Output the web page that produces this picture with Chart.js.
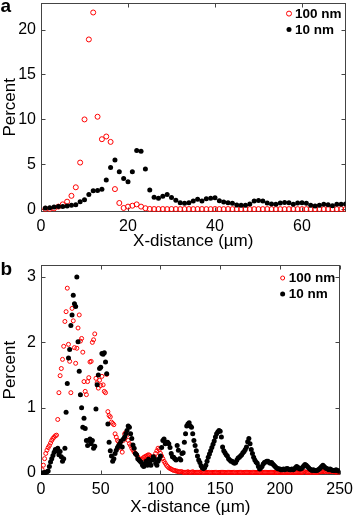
<!DOCTYPE html>
<html>
<head>
<meta charset="utf-8">
<script src="https://cdn.jsdelivr.net/npm/chart.js@4/dist/chart.umd.min.js"></script>
<style>
  html, body { margin: 0; padding: 0; background: #fff; }
  body { width: 358px; height: 516px; position: relative; overflow: hidden; }
  #wrapA { position: absolute; left: 0; top: -12px; width: 358px; height: 263px; }
  #wrapB { position: absolute; left: 0; top: 250px; width: 358px; height: 266px; }
</style>
</head>
<body>
<div id="wrapA"><canvas id="chartA" width="358" height="263"></canvas></div>
<div id="wrapB"><canvas id="chartB" width="358" height="266"></canvas></div>
<script>
// panel a: percent per 1 um bin, x = 1..70 um
const redA = [
  0.05, 0.05, 0.10, 0.30, 0.55, 0.85, 1.50, 2.45, 5.20, 10.0,
  18.9, 21.9, 10.3, 7.80, 8.10, 7.50, 2.25, 0.70, 0.15, 0.30,
  0.40, 0.55, 0.30, 0.12, 0.04, 0.03, 0.03, 0.03, 0.02, 0.03,
  0.03, 0.02, 0.03, 0.03, 0.02, 0.03, 0.03, 0.02, 0.02, 0.03,
  0.02, 0.02, 0.03, 0.02, 0.02, 0.02, 0.03, 0.02, 0.02, 0.02,
  0.02, 0.03, 0.02, 0.02, 0.02, 0.02, 0.02, 0.03, 0.02, 0.02,
  0.02, 0.02, 0.02, 0.03, 0.02, 0.02, 0.02, 0.02, 0.03, 0.02
];
const blackA = [
  0.15, 0.18, 0.25, 0.30, 0.32, 0.37, 0.45, 0.50, 0.85, 1.07,
  1.66, 2.07, 2.10, 2.22, 3.26, 4.66, 5.48, 4.18, 3.44, 3.07,
  4.18, 6.55, 6.45, 4.48, 2.14, 1.33, 1.22, 1.44, 1.65, 1.30,
  1.00, 0.72, 0.66, 0.74, 0.92, 1.11, 0.92, 1.18, 1.22, 1.29,
  0.96, 0.81, 0.74, 0.66, 0.48, 0.44, 0.44, 0.59, 0.92, 0.99,
  0.92, 0.70, 0.59, 0.55, 0.70, 0.77, 0.74, 0.55, 0.70, 0.74,
  0.66, 0.44, 0.37, 0.44, 0.55, 0.51, 0.40, 0.55, 0.55, 0.59
];

// panel b: percent per 1 um bin, x = 1..250 um
const redB = [
  0.05, 0.12, 0.22, 0.30, 0.35, 0.39, 0.42, 0.46, 0.50, 0.53,
  0.55, 0.57, 0.58, 0.82, 1.23, 1.49, 1.60, 1.74, 1.94, 2.32,
  2.47, 2.83, 1.97, 1.71, 1.23, 2.52, 2.33, 1.92, 1.68, 1.91,
  2.22, 2.42, 2.02, 2.06, 1.85, 1.40, 1.25, 1.20, 1.40, 1.46,
  1.70, 1.71, 2.00, 2.04, 2.13, 1.45, 1.38, 1.30, 1.42, 1.34,
  1.48, 1.35, 1.25, 1.23, 1.51, 0.94, 0.88, 0.86, 0.78, 0.76,
  0.74, 0.60, 0.55, 0.50, 0.48, 0.45, 0.38, 0.32, 0.50, 0.60,
  0.62, 0.58, 0.50, 0.45, 0.42, 0.38, 0.35, 0.32, 0.30, 0.28,
  0.25, 0.22, 0.20, 0.21, 0.22, 0.24, 0.25, 0.26, 0.27, 0.28,
  0.27, 0.25, 0.24, 0.24, 0.25, 0.30, 0.34, 0.38, 0.36, 0.30,
  0.26, 0.22, 0.18, 0.15, 0.12, 0.10, 0.08, 0.07, 0.06, 0.05,
  0.04, 0.04, 0.03, 0.03, 0.02, 0.02, 0.02, 0.02, 0.01, 0.01,
  0.01, 0.01, 0.02, 0.01, 0.01, 0.01, 0.02, 0.01, 0.01, 0.01,
  0.01, 0.01, 0.01, 0.02, 0.01, 0.01, 0.01, 0.01, 0.01, 0.01,
  0.01, 0.00, 0.01, 0.01, 0.01, 0.01, 0.01, 0.00, 0.01, 0.01,
  0.01, 0.01, 0.01, 0.01, 0.00, 0.01, 0.01, 0.01, 0.01, 0.01,
  0.01, 0.01, 0.00, 0.01, 0.01, 0.01, 0.01, 0.01, 0.00, 0.01,
  0.01, 0.01, 0.01, 0.01, 0.01, 0.00, 0.01, 0.01, 0.01, 0.01,
  0.01, 0.01, 0.01, 0.00, 0.01, 0.01, 0.01, 0.01, 0.01, 0.01,
  0.01, 0.01, 0.01, 0.01, 0.01, 0.01, 0.00, 0.01, 0.01, 0.01,
  0.01, 0.01, 0.01, 0.01, 0.01, 0.01, 0.01, 0.01, 0.01, 0.00,
  0.01, 0.01, 0.01, 0.01, 0.01, 0.01, 0.01, 0.01, 0.01, 0.02,
  0.02, 0.01, 0.01, 0.01, 0.01, 0.01, 0.02, 0.01, 0.01, 0.01,
  0.01, 0.01, 0.02, 0.02, 0.02, 0.03, 0.02, 0.02, 0.03, 0.02,
  0.02, 0.02, 0.03, 0.02, 0.02, 0.02, 0.01, 0.02, 0.02, 0.01
];
const blackB = [
  0.00, 0.00, 0.01, 0.01, 0.02, 0.03, 0.10, 0.17, 0.22, 0.27,
  0.32, 0.36, 0.34, 0.38, 0.28, 0.33, 0.25, 0.18, 0.22, 0.38,
  0.93, 1.37, 1.76, 1.89, 2.26, 2.42, 2.72, 2.59, 2.55, 3.00,
  2.01, 1.56, 1.20, 1.00, 0.70, 0.84, 0.68, 0.50, 0.42, 0.50,
  0.52, 0.45, 0.50, 0.38, 0.41, 0.98, 1.35, 1.50, 1.60, 1.62,
  1.83, 1.82, 1.84, 1.70, 1.52, 0.75, 0.47, 0.34, 0.26, 0.18,
  0.22, 0.30, 0.35, 0.39, 0.42, 0.45, 0.49, 0.40, 0.52, 0.55,
  0.60, 0.65, 0.72, 0.70, 0.60, 0.53, 0.43, 0.38, 0.30, 0.28,
  0.22, 0.20, 0.18, 0.16, 0.12, 0.10, 0.14, 0.18, 0.12, 0.21,
  0.15, 0.12, 0.20, 0.25, 0.22, 0.15, 0.12, 0.18, 0.22, 0.26,
  0.39, 0.50, 0.52, 0.45, 0.47, 0.47, 0.45, 0.39, 0.30, 0.25,
  0.24, 0.22, 0.20, 0.42, 0.35, 0.22, 0.20, 0.30, 0.31, 0.47,
  0.60, 0.72, 0.75, 0.77, 0.72, 0.70, 0.60, 0.50, 0.42, 0.34,
  0.26, 0.20, 0.16, 0.11, 0.08, 0.07, 0.08, 0.12, 0.18, 0.24,
  0.29, 0.34, 0.39, 0.44, 0.49, 0.55, 0.60, 0.63, 0.65, 0.64,
  0.55, 0.40, 0.34, 0.31, 0.28, 0.26, 0.22, 0.20, 0.18, 0.18,
  0.16, 0.15, 0.16, 0.20, 0.23, 0.24, 0.26, 0.28, 0.31, 0.33,
  0.36, 0.40, 0.48, 0.53, 0.45, 0.36, 0.30, 0.24, 0.20, 0.17,
  0.15, 0.10, 0.06, 0.08, 0.10, 0.14, 0.16, 0.17, 0.18, 0.18,
  0.16, 0.15, 0.16, 0.14, 0.12, 0.10, 0.08, 0.07, 0.06, 0.06,
  0.05, 0.05, 0.06, 0.05, 0.06, 0.07, 0.06, 0.05, 0.05, 0.06,
  0.05, 0.06, 0.08, 0.10, 0.09, 0.07, 0.06, 0.07, 0.09, 0.11,
  0.13, 0.12, 0.10, 0.08, 0.06, 0.05, 0.04, 0.05, 0.04, 0.04,
  0.04, 0.05, 0.06, 0.08, 0.10, 0.12, 0.10, 0.08, 0.07, 0.06,
  0.05, 0.06, 0.05, 0.04, 0.04, 0.04, 0.05, 0.04, 0.03, 0.03
];

const seriesNames = ['100 nm', '10 nm'];
const xTitle = 'X-distance (µm)';
const yTitle = 'Percent';

const FONT = '"Liberation Sans", Arial, sans-serif';
Chart.defaults.font.family = FONT;
Chart.defaults.color = '#000';

// bins are 1 um wide, first bin at 1 um
const toPoints = vals => vals.map((v, i) => ({ x: i + 1, y: v }));

// box, inward ticks on all four sides (matlab style), titles, legend
const frame = {
  id: 'frame',
  beforeDatasetsDraw(chart) {
    const { ctx, chartArea: a, scales: { x, y } } = chart;
    const L = Math.round(a.left) + 0.5, R = Math.round(a.right) - 0.5;
    const T = Math.round(a.top) + 0.5, B = Math.round(a.bottom) - 0.5;
    ctx.save();
    ctx.strokeStyle = '#444';
    ctx.lineWidth = 1;
    ctx.strokeRect(L, T, R - L, B - T);
    ctx.beginPath();
    x.ticks.forEach(t => {
      const px = Math.round(x.getPixelForValue(t.value)) + 0.5;
      ctx.moveTo(px, B); ctx.lineTo(px, B - 4);
      ctx.moveTo(px, T); ctx.lineTo(px, T + 4);
    });
    y.ticks.forEach(t => {
      const py = Math.round(y.getPixelForValue(t.value)) + 0.5;
      ctx.moveTo(L, py); ctx.lineTo(L + 4, py);
      ctx.moveTo(R, py); ctx.lineTo(R - 4, py);
    });
    ctx.stroke();
    ctx.restore();
  },
  afterDraw(chart, args, opts) {
    const { ctx, chartArea: a } = chart;
    ctx.save();
    ctx.fillStyle = '#000';
    // axis titles
    ctx.font = '17px ' + FONT;
    ctx.textAlign = 'center';
    ctx.textBaseline = 'middle';
    ctx.fillText(xTitle, (a.left + a.right) / 2, opts.xTitleY);
    ctx.save();
    ctx.translate(10, (a.top + a.bottom) / 2);
    ctx.rotate(-Math.PI / 2);
    ctx.fillText(yTitle, 0, 0);
    ctx.restore();
    // legend inside the axes, top right
    ctx.font = 'bold 13.5px ' + FONT;
    ctx.textAlign = 'left';
    chart.data.datasets.forEach((ds, i) => {
      const mx = a.right - opts.legendRight;
      const my = a.top + opts.legendTop + i * 16;
      ctx.beginPath();
      ctx.arc(mx, my, ds.pointRadius, 0, Math.PI * 2);
      if (ds.borderWidth > 0) {
        ctx.strokeStyle = ds.borderColor;
        ctx.lineWidth = ds.borderWidth;
        ctx.stroke();
      } else {
        ctx.fillStyle = ds.backgroundColor;
        ctx.fill();
      }
      ctx.fillStyle = '#000';
      ctx.fillText(ds.label, mx + 6, my + 0.5);
    });
    // panel letter
    ctx.font = 'bold 19px ' + FONT;
    ctx.textBaseline = 'alphabetic';
    ctx.fillText(opts.letter, 0.5, opts.letterY);
    ctx.restore();
  }
};

function makeChart(id, red, black, p) {
  return new Chart(document.getElementById(id), {
    type: 'scatter',
    data: {
      datasets: [
        {
          label: seriesNames[0],
          data: toPoints(red),
          pointStyle: 'circle',
          pointRadius: p.rRed,
          borderWidth: 1,
          borderColor: '#ff0000',
          backgroundColor: 'rgba(255,255,255,0)',
          order: 1
        },
        {
          label: seriesNames[1],
          data: toPoints(black),
          pointStyle: 'circle',
          pointRadius: p.rBlack,
          borderWidth: 0,
          borderColor: '#000',
          backgroundColor: '#000',
          order: 0
        }
      ]
    },
    options: {
      responsive: false,
      animation: false,
      events: [],
      layout: { padding: { left: 0, right: p.padRight, top: p.padTop, bottom: 0 } },
      plugins: {
        legend: { display: false },
        tooltip: { enabled: false },
        frame: {
          legendRight: p.legendRight, legendTop: p.legendTop,
          letter: p.letter, letterY: p.letterY, xTitleY: p.xTitleY
        }
      },
      scales: {
        x: {
          type: 'linear',
          min: p.xMin, max: p.xMax,
          afterFit: s => { s.height = p.xAxisH; },
          grid: { display: false, drawTicks: false },
          border: { display: false },
          ticks: { stepSize: p.xStep, includeBounds: false, padding: 5, maxRotation: 0, font: { size: 16 } }
        },
        y: {
          type: 'linear',
          min: p.yMin, max: p.yMax,
          afterFit: s => { s.width = 41; },
          grid: { display: false, drawTicks: false },
          border: { display: false },
          ticks: { stepSize: p.yStep, includeBounds: false, padding: 5, font: { size: 16 } }
        }
      }
    },
    plugins: [frame]
  });
}

makeChart('chartA', redA, blackA, {
  xMin: 0, xMax: 70, xStep: 20, yMin: -0.3, yMax: 23, yStep: 5,
  rRed: 2.5, rBlack: 2.5,
  padRight: 12.5, padTop: 14, xAxisH: 39,
  legendRight: 56.5, legendTop: 11, letter: 'a', letterY: 23.7, xTitleY: 253
});

makeChart('chartB', redB, blackB, {
  xMin: 0, xMax: 250, xStep: 50, yMin: -0.03, yMax: 3.18, yStep: 1,
  rRed: 2, rBlack: 2.5,
  padRight: 14, padTop: 15.3, xAxisH: 41,
  legendRight: 57, legendTop: 12.7, letter: 'b', letterY: 25, xTitleY: 257
});
</script>
</body>
</html>
